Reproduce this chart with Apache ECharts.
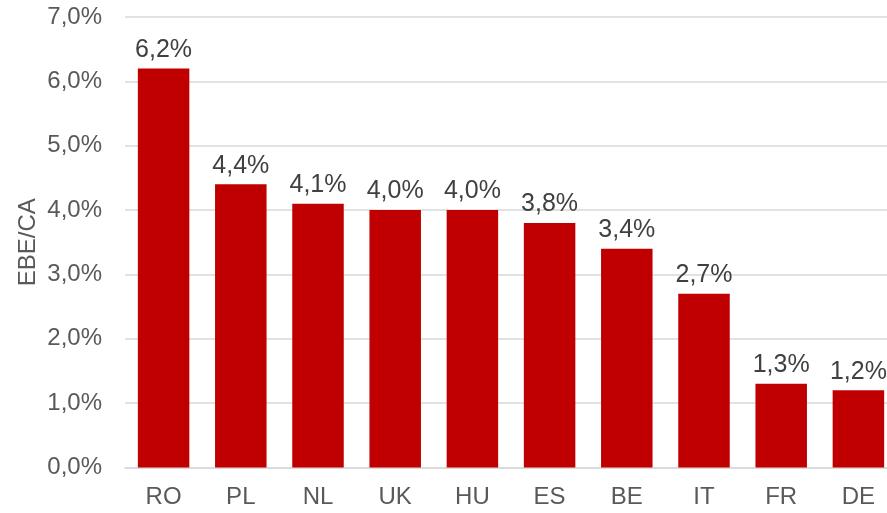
<!DOCTYPE html>
<html><head><meta charset="utf-8">
<script src="https://cdn.jsdelivr.net/npm/echarts@6/dist/echarts.min.js"></script>
<style>html,body{margin:0;padding:0;background:#fff}#c{width:887px;height:513px}</style>
</head><body><div id="c"></div>
<script>
const categories = ["RO","PL","NL","UK","HU","ES","BE","IT","FR","DE"];
const values = [6.2,4.4,4.1,4.0,4.0,3.8,3.4,2.7,1.3,1.2];
const yAxisName = "EBE/CA";
const fmt = v => v.toFixed(1).replace('.', ',') + '%';
const chart = echarts.init(document.getElementById('c'), null, {renderer:'canvas'});
chart.setOption({
  animation:false,
  textStyle:{fontFamily:'"Liberation Sans", Arial, sans-serif'},
  grid:{left:125, width:772, top:17, bottom:45.5, containLabel:false, outerBoundsMode:'none'},
  xAxis:{type:'category', data:categories,
    axisLine:{show:true, lineStyle:{color:'#D9D9D9', width:1.5}},
    axisTick:{show:false},
    axisLabel:{color:'#595959', fontSize:24, margin:18}},
  yAxis:{type:'value', min:0, max:7, interval:1,
    name:yAxisName, nameLocation:'middle', nameGap:85, nameRotate:90, nameMoveOverlap:false,
    nameTextStyle:{color:'#595959', fontSize:24},
    axisLine:{show:false}, axisTick:{show:false},
    splitLine:{lineStyle:{color:'#D9D9D9', width:1.5}},
    axisLabel:{color:'#595959', fontSize:24, margin:23, formatter:v=>fmt(v)}},
  series:[{type:'bar', data:values, barWidth:51.5,
    itemStyle:{color:'#C00000'},
    label:{show:true, position:'top', distance:6, color:'#404040', fontSize:25,
      formatter:p=>fmt(p.value)}}]
});
</script></body></html>
